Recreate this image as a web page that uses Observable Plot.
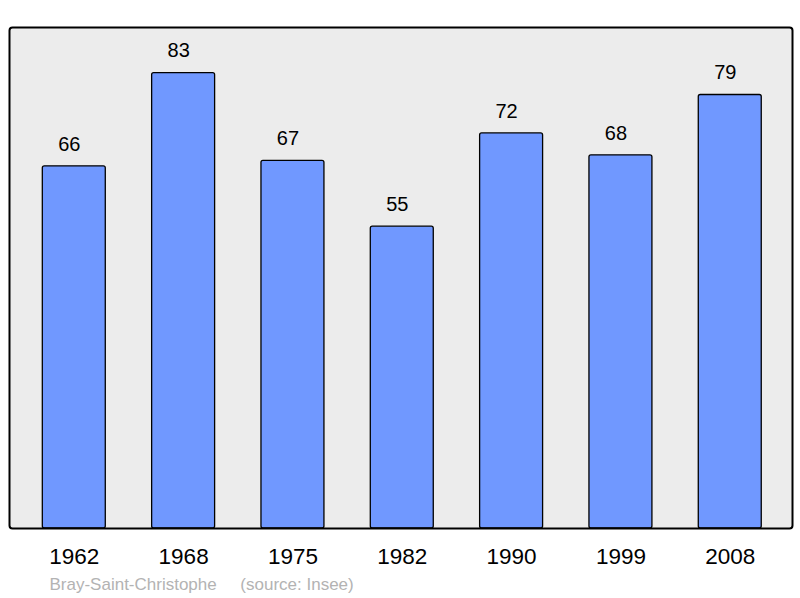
<!DOCTYPE html>
<html>
<head>
<meta charset="utf-8">
<script src="https://cdn.jsdelivr.net/npm/d3@7"></script>
<script src="https://cdn.jsdelivr.net/npm/@observablehq/plot@0.6"></script>
<style>
  html, body { margin: 0; padding: 0; background: #fff; }
  svg { display: block; }
</style>
</head>
<body>
<div id="chart"></div>
<script>
const years = ["1962", "1968", "1975", "1982", "1990", "1999", "2008"];
const population = [66, 83, 67, 55, 72, 68, 79];
const captionText = "Bray-Saint-Christophe\u00a0\u00a0\u00a0\u00a0\u00a0(source: Insee)";

const data = years.map((y, i) => ({year: y, value: population[i]}));
const font = "'Liberation Sans', Arial, sans-serif";

const chart = Plot.plot({
  width: 800,
  height: 598,
  marginTop: 27,
  marginBottom: 70,
  marginLeft: 9,
  marginRight: 8,
  style: {fontFamily: font, background: "#fff"},
  x: {domain: years, paddingInner: 0.424, paddingOuter: 0.293, align: 0.52, round: false, label: null},
  y: {domain: [0, Math.max(...population) * 1.1], axis: null},
  marks: [
    Plot.frame({fill: "#ececec", stroke: "none", rx: 3}),
    Plot.barY(data, {x: "year", y: "value", fill: "#7098ff", stroke: "#000", strokeWidth: 1.3, rx: 2}),
    Plot.text(data, {x: "year", y: "value", text: d => String(d.value), dy: -22, dx: -5, fontSize: 20, fill: "#000"}),
    Plot.frame({fill: "none", stroke: "#000", strokeWidth: 2, rx: 3}),
    Plot.axisX({tickSize: 0, tickPadding: 20, fontSize: 22.5, fill: "#000", label: null}),
    Plot.text([captionText], {frameAnchor: "bottom-left", dx: 40, dy: 61, text: d => d, textAnchor: "start", fontSize: 17, fill: "#b3b3b3"})
  ]
});
document.getElementById("chart").appendChild(chart);
</script>
</body>
</html>
